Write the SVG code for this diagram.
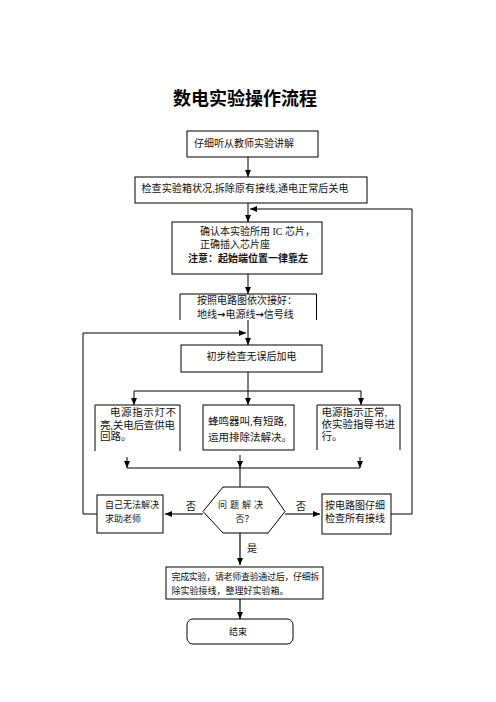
<svg xmlns="http://www.w3.org/2000/svg" width="496" height="702" viewBox="0 0 496 702">
<style>
.b{fill:#fff;stroke:#000;stroke-width:1}
.o{fill:none;stroke:#000;stroke-width:1}
.t{font-family:"Liberation Serif","Noto Sans CJK SC",serif;font-size:10px;fill:#111}
.s{font-size:9px}
.m{font-size:10.5px}
.ar{font-family:"DejaVu Sans",sans-serif;font-weight:bold}
.c{stroke:#000;stroke-width:1;fill:none}
.g{stroke:#444;stroke-width:1.6;fill:none}
</style>
<defs>
<marker id="a" markerUnits="userSpaceOnUse" markerWidth="7" markerHeight="6" refX="7" refY="3" orient="auto"><path d="M0,0L7,3L0,6z" fill="#000"/></marker>
</defs>
<rect width="496" height="702" fill="#fff"/>
<text x="245" y="105" text-anchor="middle" style="font-family:'Noto Sans CJK SC',sans-serif;font-size:18px;font-weight:bold" fill="#000">数电实验操作流程</text>
<g id="connectors">
<path class="c" d="M248,157V177" marker-end="url(#a)"/>
<path class="c" d="M248,203V222" marker-end="url(#a)"/>
<path class="c" d="M391,514H412V209H250" marker-end="url(#a)"/>
<path class="c" d="M248,274V294" marker-end="url(#a)"/>
<path class="c" d="M248,320V345" marker-end="url(#a)"/>
<path class="c" d="M97,514H83V333H246" marker-end="url(#a)"/>
<path class="c" d="M248,372V391M134,391H361"/>
<path class="c" d="M134,391V405" marker-end="url(#a)"/>
<path class="c" d="M248,391V405" marker-end="url(#a)"/>
<path class="c" d="M361,391V405" marker-end="url(#a)"/>
<path class="c" d="M127,457V468" marker-end="url(#a)"/>
<path class="c" d="M240,455V468" marker-end="url(#a)"/>
<path class="c" d="M360,457V468" marker-end="url(#a)"/>
<path class="c" d="M127,468H360M240,468V487"/>
<path class="g" d="M203,514H165" marker-end="url(#a)"/>
<path class="g" d="M285,514H320" marker-end="url(#a)"/>
<path class="g" d="M240,533V565" marker-end="url(#a)"/>
<path class="g" d="M240,599V619" marker-end="url(#a)"/>
<text class="t" x="186" y="510">否</text>
<text class="t" x="296" y="510">否</text>
<text class="t" x="247" y="552">是</text>
</g>
<g id="n1"><rect class="b" x="187" y="131" width="131" height="26"/><text class="t" x="194" y="146.5">仔细听从教师实验讲解</text></g>
<g id="n2"><rect class="b" x="135" y="177" width="232" height="26"/><text class="t" x="141.5" y="191.5" textLength="207">检查实验箱状况,拆除原有接线,通电正常后关电</text></g>
<g id="n3"><rect class="b" x="172" y="222" width="150" height="52"/>
<text class="t" x="200" y="235">确认本实验所用 IC 芯片，</text>
<text class="t" x="200" y="247.5">正确插入芯片座</text>
<text class="t" x="188" y="261.5" font-weight="bold">注意：起始端位置一律靠左</text></g>
<g id="n4"><path class="o" d="M180,320V294H316.5V320"/>
<text class="t" x="197" y="303.5">按照电路图依次接好：</text>
<text class="t" x="197" y="317.5">地线<tspan class="ar">→</tspan>电源线<tspan class="ar">→</tspan>信号线</text></g>
<g id="n5"><rect class="b" x="181" y="345" width="141" height="27"/><text class="t" x="251.5" y="359.5" text-anchor="middle">初步检查无误后加电</text></g>
<g id="n6"><path class="o" d="M95,451V405H180V451"/>
<text class="t m" x="110" y="415.5" textLength="66">电源指示灯不</text>
<text class="t m" x="100" y="428.5" textLength="75">亮,关电后查供电</text>
<text class="t m" x="100" y="440">回路。</text></g>
<g id="n7"><rect class="b" x="203" y="405" width="91" height="45"/>
<text class="t m" x="208" y="424.5">蜂鸣器叫,有短路,</text>
<text class="t m" x="208" y="440.5">运用排除法解决。</text></g>
<g id="n8"><path class="o" d="M317,450V405H400V450"/>
<text class="t m" x="321.5" y="415.5">电源指示正常,</text>
<text class="t m" x="321.5" y="428">依实验指导书进</text>
<text class="t m" x="321.5" y="439.5">行。</text></g>
<g id="n9"><polygon class="b" points="223,487 268,487 285,511.5 268,533 223,533 203,511.5"/>
<text class="t s" x="218" y="508" textLength="45">问 题 解 决</text>
<text class="t s" x="244.5" y="521.5" text-anchor="middle">否？</text></g>
<g id="n10"><rect class="b" x="97" y="495" width="66" height="38"/>
<text class="t s" x="105" y="508">自己无法解决</text>
<text class="t s" x="105" y="521.5">求助老师</text></g>
<g id="n11"><rect class="b" x="322" y="494" width="69" height="40"/>
<text class="t" x="325" y="508.5">按电路图仔细</text>
<text class="t" x="325" y="521.5">检查所有接线</text></g>
<g id="n12"><rect class="b" x="166" y="567" width="157" height="32"/>
<text class="t s" x="171.5" y="580" textLength="148">完成实验，请老师查验通过后，仔细拆</text>
<text class="t s" x="171.5" y="594">除实验接线，整理好实验箱。</text></g>
<g id="n13"><rect class="b" x="187" y="619" width="106" height="25" rx="6"/>
<text class="t s" x="238" y="635" text-anchor="middle">结束</text></g>
</svg>
